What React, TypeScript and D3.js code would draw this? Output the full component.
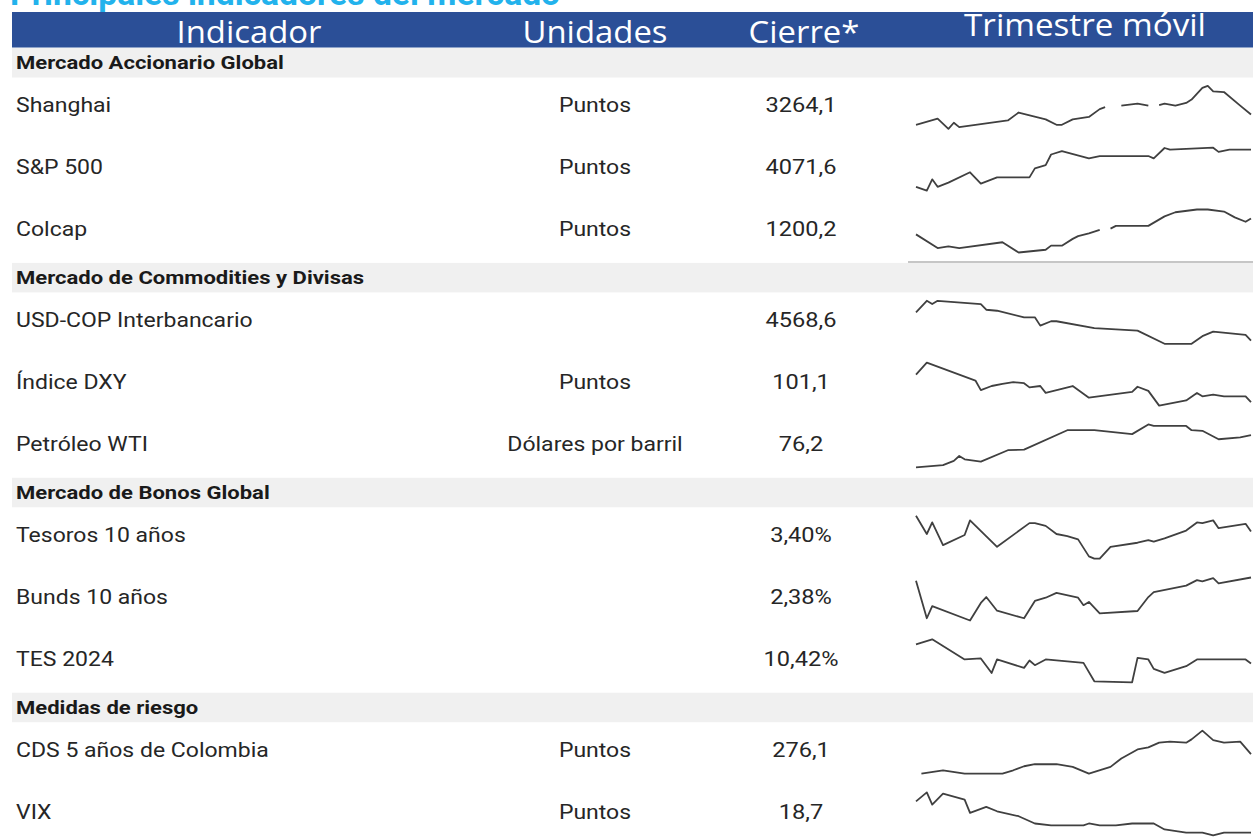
import React from 'react'
import * as d3 from 'd3'

// table content
const title = 'Principales indicadores del mercado'
const headers = ['Indicador', 'Unidades', 'Cierre*', 'Trimestre móvil']
const sections = [
  'Mercado Accionario Global',
  'Mercado de Commodities y Divisas',
  'Mercado de Bonos Global',
  'Medidas de riesgo',
]
const indicators = [
  ['Shanghai', 'S&P 500', 'Colcap'],
  ['USD-COP Interbancario', 'Índice DXY', 'Petróleo WTI'],
  ['Tesoros 10 años', 'Bunds 10 años', 'TES 2024'],
  ['CDS 5 años de Colombia', 'VIX'],
]
const units = [
  ['Puntos', 'Puntos', 'Puntos'],
  ['', 'Puntos', 'Dólares por barril'],
  ['', '', ''],
  ['Puntos', 'Puntos'],
]
const closes = [
  ['3264,1', '4071,6', '1200,2'],
  ['4568,6', '101,1', '76,2'],
  ['3,40%', '2,38%', '10,42%'],
  ['276,1', '18,7'],
]

// rolling-quarter sparklines: [trading day, relative level] (null = missing data)
type Pt = [number, number | null]
const shanghaiTrend: Pt[] = [[0,4],[4,10],[6,0],[7,6],[8,1.7],[17,8.3],[19,16],[24,9.3],[26,4],[27,4],[29,9.3],[32,11.7],[34,19.3],[35,21.3],[37,null],[38,22.7],[41,24.7],[43,22.7],[44,null],[45,23.3],[46,24.7],[48,22.7],[50,25.3],[51,28.7],[53,40],[54,42],[55,36.7],[57,36],[60,22.7],[62,14]]
const sp500Trend: Pt[] = [[0,4],[2,0],[3,11.7],[4,4],[6,8.3],[10,19],[12,7.3],[15,13.7],[21,13.7],[22,23],[24,26.3],[25,37.3],[27,40.7],[32,33.3],[34,35.7],[43,35.7],[44,33.3],[46,44],[47,42.3],[55,44.3],[56,40],[58,42.3],[62,42.3]]
const colcapTrend: Pt[] = [[0,17.7],[4,4.3],[6,6],[8,4.3],[16,10],[19,0],[24,2.7],[25,6.7],[27,6.7],[29,13.3],[30,16],[32,18.7],[34,22],[35,null],[36,23.3],[37,26],[43,26],[46,35.3],[48,39.3],[52,42],[54,42],[57,40],[59,34.3],[61,30],[62,33.3]]
const usdcopTrend: Pt[] = [[0,31.7],[2,43.3],[3,40],[4,43.3],[12,40],[13,34.3],[15,33.3],[20,26.7],[22,26.7],[23,18.3],[25,22.7],[26,22.7],[33,15.7],[41,13.3],[46,0],[51,0],[53,7.7],[55,12.3],[61,9],[62,3.3]]
const dxyTrend: Pt[] = [[0,30],[2,41.7],[11,24.3],[12,15],[14,19],[16,21],[18,22.7],[20,21.7],[21,17.7],[23,19],[24,12.3],[29,19],[32,7.7],[40,13.3],[41,18.3],[43,14.3],[45,0],[50,5],[52,12.3],[53,9],[55,10.7],[57,9],[61,9],[62,3.3]]
const wtiTrend: Pt[] = [[0,0],[5,2.3],[7,6.7],[8,11.7],[9,8.3],[12,6],[17,17.7],[20,18.3],[28,38.3],[33,38.3],[40,34.3],[43,44.3],[44,42.7],[50,42.7],[51,38.3],[53,37.7],[56,29],[60,31],[62,33.3]]
const tesorosTrend: Pt[] = [[0,42.3],[2,24.3],[3,35.7],[5,13.3],[9,23.3],[10,37.7],[15,11.7],[21,35],[22,35],[24,32.3],[26,24.3],[28,22.3],[30,19],[32,2.3],[33,0],[34,0],[36,11.7],[41,15.7],[43,18.3],[44,16.7],[46,20],[50,27.7],[52,35.7],[53,35],[55,37.7],[56,30],[61,34.3],[62,26.7]]
const bundsTrend: Pt[] = [[0,40.7],[2,2.3],[3,14.7],[10,0],[12,18],[13,24],[15,10],[20,2.3],[22,20],[24,23.3],[26,28.3],[30,23.3],[31,15.7],[32,19],[34,7.3],[41,9.7],[43,24],[44,29],[50,35.7],[52,41.3],[53,40],[55,43.3],[56,38],[62,44]]
const tes2024Trend: Pt[] = [[0,37.7],[3,42.7],[9,22.7],[12,23.7],[14,9.3],[15,22.7],[20,14.3],[21,21.7],[22,17],[24,22.7],[31,19.3],[33,1],[40,0],[41,24.3],[43,22.7],[44,13.3],[46,9.3],[50,16],[52,22.7],[61,22.7],[62,18.7]]
const cdsTrend: Pt[] = [[1,0],[5,3.3],[9,0],[16,0],[18,3.3],[20,7.3],[22,9.3],[26,9.3],[29,6.7],[32,0],[36,6.7],[38,15],[41,24],[43,26],[45,30.7],[47,31.7],[50,30.7],[51,34],[53,42.7],[55,33.3],[57,30.7],[60,31.7],[62,19.3]]
const vixTrend: Pt[] = [[0,34.3],[2,43.3],[3,31],[5,42],[9,36],[10,22.7],[13,28.7],[15,24.3],[19,19.3],[22,12],[25,10],[31,10],[32,12],[34,10],[37,10],[40,12],[44,12],[46,6],[50,2.7],[53,2.7],[55,0],[57,2.7],[62,2.7]]

const trends = [
  [shanghaiTrend, sp500Trend, colcapTrend],
  [usdcopTrend, dxyTrend, wtiTrend],
  [tesorosTrend, bundsTrend, tes2024Trend],
  [cdsTrend, vixTrend],
]

const W = 1253, H = 838
const BLUE = '#2b4f97'
const BAND = '#f0f0f0'
const INK = '#262626'

// the source table is a little stretched sideways
function Stretched(props: { x: number; y: number; sx: number; anchor?: string; style: any; children: any }) {
  return (
    <text transform={`translate(${props.x},${props.y}) scale(${props.sx},1)`}
      dominantBaseline="central" textAnchor={props.anchor || 'start'} {...props.style}>
      {props.children}
    </text>
  )
}

export default function App() {
  const left = 12, top = 12, headH = 36
  const secH = 29.5, rowH = 61.8
  const colUnits = 595, colClose = 801, colTrend = 1085

  // sparkline x scale over the trading days of the quarter
  const x = d3.scaleLinear().domain([0, 62]).range([916, 1251])

  // walk the table to place sections and rows
  let y = top + headH
  const secs: { name: string; y: number }[] = []
  const rows: { label: string; unit: string; close: string; data: Pt[]; cy: number }[] = []
  sections.forEach((s, i) => {
    secs.push({ name: s, y })
    y += secH
    indicators[i].forEach((lab, j) => {
      rows.push({ label: lab, unit: units[i][j], close: closes[i][j], data: trends[i][j], cy: y + rowH / 2 })
      y += rowH
    })
  })

  const rowFont = { fontFamily: 'Roboto', fontSize: 20, fill: INK }
  const secFont = { fontFamily: 'Roboto', fontWeight: 700, fontSize: 19, fill: '#1a1a1a' }
  const headFont = { fontFamily: 'Open Sans', fontSize: 31, fill: '#fff' }

  return (
    <svg width={W} height={H} style={{ position: 'absolute', left: 0, top: 0, background: '#fff' }}>
      <text transform="translate(10,5) scale(1.02,1)" fontFamily="Roboto" fontWeight={700} fontSize={33} fill="#22b2ec">{title}</text>
      <rect x={left} y={top} width={W - left} height={headH} fill={BLUE} />
      <line x1={left} x2={W} y1={top + headH - 0.5} y2={top + headH - 0.5} stroke="#8ea3c9" strokeWidth={1} />
      {[249, colUnits, 804].map((cx, i) => (
        <text key={i} transform={`translate(${cx},43) scale(1.06,1)`} textAnchor="middle" {...headFont}>{headers[i]}</text>
      ))}
      <text transform={`translate(${colTrend},36) scale(1.07,1)`} textAnchor="middle" {...headFont}>{headers[3]}</text>

      {secs.map((s) => (
        <g key={s.name}>
          <rect x={left} y={s.y} width={W - left} height={secH} fill={BAND} />
          <Stretched x={16} y={s.y + secH / 2} sx={1.16} style={secFont}>{s.name}</Stretched>
        </g>
      ))}
      <line x1={908} x2={W} y1={secs[1].y - 1} y2={secs[1].y - 1} stroke="#c6c6c6" strokeWidth={2} />

      {rows.map((r) => {
        const yv = d3.scaleLinear()
          .domain(d3.extent(r.data.filter((d) => d[1] !== null), (d) => d[1] as number) as [number, number])
          .range([r.cy - 1 + 21.5, r.cy - 1 - 21.5])
        const line = d3.line<Pt>()
          .defined((d) => d[1] !== null)
          .x((d) => x(d[0]))
          .y((d) => yv(d[1] as number))
        return (
          <g key={r.label}>
            <Stretched x={16} y={r.cy - 3} sx={1.15} style={rowFont}>{r.label}</Stretched>
            <Stretched x={colUnits} y={r.cy - 3} sx={1.15} anchor="middle" style={rowFont}>{r.unit}</Stretched>
            <Stretched x={colClose} y={r.cy - 3} sx={1.18} anchor="middle" style={rowFont}>{r.close}</Stretched>
            <path d={line(r.data) || ''} fill="none" stroke="#404040" strokeWidth={1.8} strokeLinejoin="round" />
          </g>
        )
      })}
    </svg>
  )
}
